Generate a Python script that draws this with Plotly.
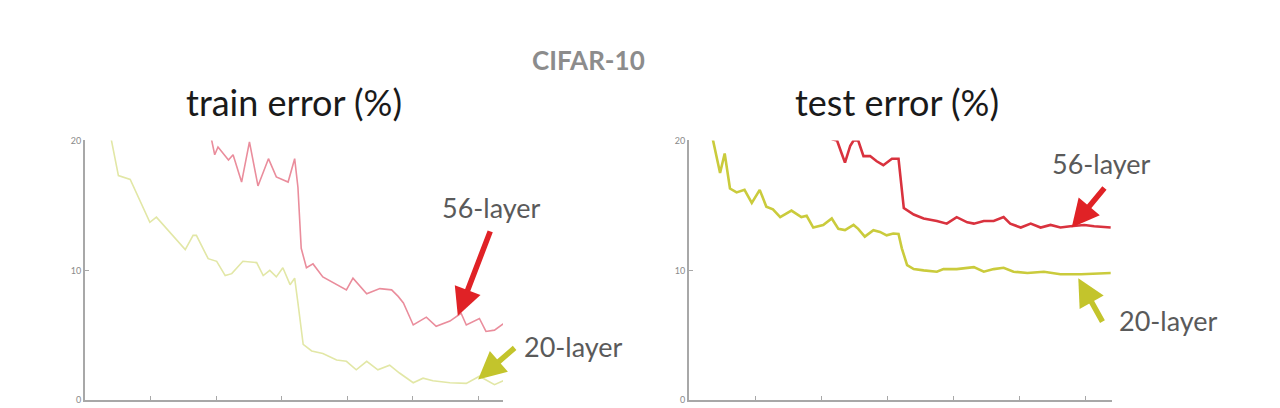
import plotly.graph_objects as go

# ---- data (x: iterations in 1e4, y: error %) ----
train20_x = [0.40, 0.51, 0.69, 0.99, 1.09, 1.53, 1.65, 1.70, 1.88, 2.01, 2.14, 2.24, 2.41, 2.62, 2.72, 2.82, 2.92, 3.02, 3.13, 3.20, 3.25, 3.33, 3.46, 3.63, 3.84, 3.99, 4.14, 4.30, 4.47, 4.65, 4.80, 5.01, 5.16, 5.31, 5.57, 5.82, 6.02, 6.25, 6.43]
train20_y = [20.1, 17.3, 17.0, 13.7, 14.1, 11.6, 12.7, 12.7, 10.9, 10.7, 9.6, 9.75, 10.7, 10.6, 9.6, 10.0, 9.5, 10.2, 8.9, 9.4, 7.5, 4.3, 3.8, 3.6, 3.1, 3.0, 2.35, 3.0, 2.35, 2.7, 2.1, 1.35, 1.7, 1.5, 1.35, 1.3, 1.85, 1.2, 1.6]

train56_x = [1.93, 1.98, 2.03, 2.11, 2.19, 2.26, 2.39, 2.51, 2.64, 2.80, 2.92, 3.10, 3.20, 3.25, 3.30, 3.38, 3.48, 3.63, 3.84, 3.99, 4.09, 4.30, 4.50, 4.68, 4.78, 4.86, 5.01, 5.21, 5.36, 5.57, 5.74, 5.82, 6.02, 6.12, 6.25, 6.43]
train56_y = [20.1, 18.9, 19.5, 19.0, 18.5, 18.9, 16.8, 19.9, 16.5, 18.6, 17.2, 16.8, 18.6, 16.4, 11.7, 10.2, 10.5, 9.5, 8.9, 8.5, 9.4, 8.2, 8.6, 8.5, 8.0, 7.5, 5.8, 6.4, 5.7, 6.1, 6.7, 5.8, 6.3, 5.3, 5.4, 6.05]

test20_x = [0.36, 0.47, 0.54, 0.62, 0.72, 0.84, 0.95, 1.07, 1.17, 1.27, 1.38, 1.55, 1.70, 1.78, 1.88, 2.03, 2.16, 2.26, 2.36, 2.49, 2.56, 2.66, 2.79, 2.89, 2.99, 3.09, 3.17, 3.22, 3.30, 3.40, 3.55, 3.75, 3.85, 4.05, 4.31, 4.46, 4.61, 4.76, 4.91, 5.12, 5.37, 5.62, 5.93, 6.13, 6.38]
test20_y = [20.1, 17.5, 19.0, 16.3, 16.0, 16.2, 15.2, 16.2, 14.9, 14.7, 14.1, 14.6, 14.1, 14.2, 13.3, 13.5, 14.0, 13.2, 13.1, 13.5, 13.2, 12.6, 13.1, 12.96, 12.7, 12.84, 12.8, 11.7, 10.4, 10.1, 10.0, 9.9, 10.1, 10.1, 10.25, 9.9, 10.1, 10.2, 9.9, 9.8, 9.9, 9.7, 9.7, 9.75, 9.8]

test56_x = [2.16, 2.24, 2.31, 2.36, 2.44, 2.49, 2.56, 2.64, 2.74, 2.84, 2.94, 3.07, 3.17, 3.25, 3.40, 3.55, 3.75, 3.90, 4.05, 4.21, 4.31, 4.46, 4.61, 4.76, 4.86, 5.02, 5.17, 5.32, 5.47, 5.62, 5.77, 5.98, 6.13, 6.38]
test56_y = [20.1, 20.0, 19.0, 18.3, 19.6, 20.0, 20.0, 18.8, 18.8, 18.4, 18.1, 18.6, 18.6, 14.8, 14.3, 14.0, 13.8, 13.6, 14.1, 13.7, 13.6, 13.8, 13.8, 14.1, 13.6, 13.3, 13.6, 13.3, 13.5, 13.3, 13.4, 13.5, 13.4, 13.3]

y_ticks = [0, 10, 20]
x_ticks = [0, 1, 2, 3, 4, 5, 6]

W, H = 1280, 408
OFF = 8  # page body margin offset


def px(x):
    return (x - OFF) / W


def py(y):
    return (H - (y - OFF)) / H


fig = go.Figure()
fig.add_trace(go.Scatter(x=train20_x, y=train20_y, mode="lines",
                         line=dict(color="#e2e7a6", width=1.6), xaxis="x", yaxis="y"))
fig.add_trace(go.Scatter(x=train56_x, y=train56_y, mode="lines",
                         line=dict(color="#ea8d9c", width=1.6), xaxis="x", yaxis="y"))
fig.add_trace(go.Scatter(x=test20_x, y=test20_y, mode="lines",
                         line=dict(color="#cacb3c", width=2.6), xaxis="x2", yaxis="y2"))
fig.add_trace(go.Scatter(x=test56_x, y=test56_y, mode="lines",
                         line=dict(color="#d9323e", width=2.6), xaxis="x2", yaxis="y2"))

ydom = [py(405), py(138)]
axis_common = dict(showgrid=False, zeroline=False, showline=True, linecolor="#a8a8a8",
                   linewidth=2, ticks="inside", ticklen=4, tickcolor="#a8a8a8", tickwidth=1)

fig.update_layout(
    width=W, height=H,
    margin=dict(l=0, r=0, t=0, b=0),
    paper_bgcolor="white", plot_bgcolor="white",
    showlegend=False,
    font=dict(family="Lato, Open Sans, sans-serif"),
    xaxis=dict(domain=[px(85), px(503)], range=[0, 6.38], tickvals=x_ticks,
               showticklabels=False, anchor="y", **axis_common),
    yaxis=dict(domain=ydom, range=[0, 20], tickvals=y_ticks, anchor="x",
               tickfont=dict(size=9, color="#8a8a8a"), **axis_common),
    xaxis2=dict(domain=[px(689), px(1112)], range=[0, 6.4], tickvals=x_ticks,
                showticklabels=False, anchor="y2", **axis_common),
    yaxis2=dict(domain=ydom, range=[0, 20], tickvals=y_ticks, anchor="x2",
                tickfont=dict(size=9, color="#8a8a8a"), **axis_common),
)


def label(text, x, y, size, color):
    return dict(text=text, x=px(x), y=py(y), xref="paper", yref="paper",
                xanchor="center", yanchor="middle", showarrow=False,
                font=dict(size=size, color=color))


ann = [
    label("<b>CIFAR-10</b>", 588, 55, 26, "#8c8c8c"),
    label("train error (%)", 294, 98, 36, "#1a1a1a"),
    label("test error (%)", 897, 98, 36, "#1a1a1a"),
    label("56-layer", 491, 207, 27, "#5a5a5a"),
    label("20-layer", 573, 350, 27, "#5a5a5a"),
    label("56-layer", 1101, 162, 27, "#5a5a5a"),
    label("20-layer", 1168, 323, 27, "#5a5a5a"),
]

red = "#e02226"
grn = "#c3c42c"
arrow = dict(text="", showarrow=True, arrowhead=2, arrowsize=1.0, arrowwidth=5.5)
ann.append(dict(x=5.69, y=6.5, xref="x", yref="y", ax=33, ay=-86, arrowcolor=red, **arrow))
ann.append(dict(x=6.0, y=1.6, xref="x", yref="y", ax=38, ay=-33, arrowcolor=grn, **arrow))
ann.append(dict(x=5.79, y=13.3, xref="x2", yref="y2", ax=34, ay=-41, arrowcolor=red, **arrow))
ann.append(dict(x=5.89, y=9.4, xref="x2", yref="y2", ax=25, ay=45, arrowcolor=grn, **arrow))
fig.update_layout(annotations=ann)

fig.write_html("out.html")
